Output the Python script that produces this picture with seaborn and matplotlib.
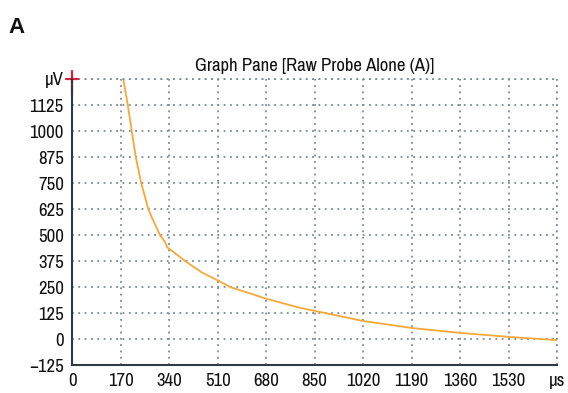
import matplotlib
matplotlib.use("Agg")
import matplotlib.pyplot as plt
import seaborn as sns
import pandas as pd

time_us = [180, 195, 209, 223, 242, 267, 279, 308, 326, 334, 349, 396, 455, 513, 554, 683, 799, 852, 1020, 1192, 1367, 1535, 1700]
signal_uv = [1245, 1125, 1000, 875, 750, 625, 585, 500, 465, 440, 425, 375, 320, 280, 250, 193, 150, 135, 87, 53, 29, 10, -5]
x_ticks = [0, 170, 340, 510, 680, 850, 1020, 1190, 1360, 1530, 1700]
x_labels = ["0", "170", "340", "510", "680", "850", "1020", "1190", "1360", "1530", "µs"]
y_ticks = [-125, 0, 125, 250, 375, 500, 625, 750, 875, 1000, 1125, 1250]
y_labels = ["\u2212125", "0", "125", "250", "375", "500", "625", "750", "875", "1000", "1125", "µV"]

sns.set_style("white")
plt.rcParams['font.family'] = ['Archivo Narrow', 'DejaVu Sans']

fig = plt.figure(figsize=(5.68, 3.93), dpi=100)
ax = fig.add_axes([0.127, 0.071, 0.854, 0.728])

df = pd.DataFrame({"t": time_us, "v": signal_uv})
sns.lineplot(data=df, x="t", y="v", ax=ax, color="#f5a93a", linewidth=1.3)

ax.set_xlim(0, 1700)
ax.set_ylim(-125, 1250)
ax.set_xticks(x_ticks)
ax.set_xticklabels(x_labels)
ax.set_yticks(y_ticks)
ax.set_yticklabels(y_labels)
ax.set_xlabel("")
ax.set_ylabel("")
ax.tick_params(axis="both", direction="inout", length=8, width=1.3, color="#2f3b40",
               labelsize=13.5, labelcolor="#111111", pad=2)

ax.grid(True, linestyle=(0, (1, 2.5)), color="#7d8a90", linewidth=1.3)
for s in ["top", "right"]:
    ax.spines[s].set_visible(False)
for s in ["left", "bottom"]:
    ax.spines[s].set_color("#2f3b40")
    ax.spines[s].set_linewidth(1.5)

ax.axhline(1250, linestyle=(0, (1, 2.5)), color="#7d8a90", linewidth=1.3, clip_on=False)
ax.axvline(1700, linestyle=(0, (1, 2.5)), color="#7d8a90", linewidth=1.3, clip_on=False)

ax.plot([0, 0], [1180, 1290], color="#d9223a", linewidth=1.6, clip_on=False)
ax.plot([-20, 20], [1250, 1250], color="#d9223a", linewidth=1.6, clip_on=False)

ax.set_title("Graph Pane [Raw Probe Alone (A)]", fontsize=13.5, pad=6, color="#111111")
fig.text(0.014, 0.915, "A", fontsize=16, fontweight="bold", color="#111111",
         family=['Liberation Sans', 'DejaVu Sans'])

fig.savefig("out.png", dpi=100)
